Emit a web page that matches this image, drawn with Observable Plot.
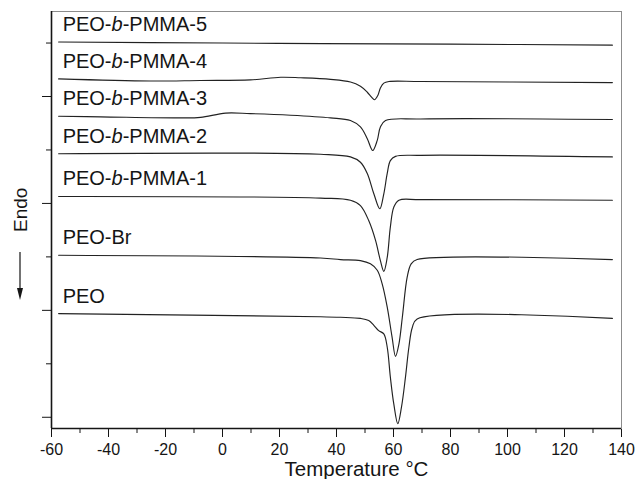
<!DOCTYPE html>
<html>
<head>
<meta charset="utf-8">
<script src="https://cdn.jsdelivr.net/npm/d3@7"></script>
<script src="https://cdn.jsdelivr.net/npm/@observablehq/plot@0.6"></script>
<style>
  html, body { margin: 0; padding: 0; background: #fff; }
  #chart svg { display: block; }
</style>
</head>
<body>
<div id="chart"></div>
<script>
// DSC heating traces: temperature (°C) and heat flow (arbitrary units, endo down)
const sampleNames = ["PEO-b-PMMA-5", "PEO-b-PMMA-4", "PEO-b-PMMA-3", "PEO-b-PMMA-2", "PEO-b-PMMA-1", "PEO-Br", "PEO"];

const tPMMA5 = [-57.5, 0, 35, 80, 136.8];
const hPMMA5 = [70.2, 70.0, 69.9, 69.8, 69.6];

const tPMMA4 = [-57.5, -25.3, -7.7, 9.8, 20.4, 27.4, 37.9, 44.9, 48.4, 50.8, 52.3, 53.3, 54.5, 55.4, 56.6, 58.4, 69.5, 136.8];
const hPMMA4 = [63.3, 62.9, 63.0, 63.1, 63.6, 63.5, 63.2, 62.7, 61.9, 60.8, 59.9, 59.4, 60.2, 61.6, 62.5, 62.8, 62.8, 62.6];

const tPMMA3 = [-57.5, -42.8, -14.7, -7.7, 1.1, 9.8, 23.9, 37.9, 44.9, 48.4, 50.8, 52.7, 54.3, 55.4, 57.2, 69.5, 136.8];
const hPMMA3 = [56.3, 56.2, 56.0, 56.1, 56.9, 56.8, 56.5, 56.0, 55.5, 54.3, 52.1, 49.9, 51.8, 54.3, 55.5, 55.8, 55.7];

const tPMMA2 = [-57.5, 34.4, 44.9, 48.4, 50.8, 53.1, 55.2, 56.6, 57.8, 58.9, 60.7, 69.5, 136.8];
const hPMMA2 = [49.3, 49.2, 48.7, 47.7, 45.6, 41.8, 39.0, 41.8, 45.6, 48.0, 48.8, 49.0, 48.7];

const tPMMA1 = [-57.5, 34.4, 44.9, 48.4, 51.3, 53.7, 55.4, 56.6, 57.8, 58.9, 60.1, 61.9, 69.5, 136.8];
const hPMMA1 = [41.3, 41.0, 40.6, 39.6, 36.8, 33.1, 29.3, 27.3, 29.9, 35.6, 39.3, 40.6, 40.7, 40.6];

const tPEOBr = [-57.5, 34.4, 41.4, 48.4, 51.9, 54.3, 56.0, 57.8, 59.5, 60.7, 61.9, 63.1, 64.8, 66.2, 68.3, 136.8];
const hPEOBr = [30.3, 29.8, 29.5, 29.3, 28.7, 27.5, 25.0, 20.6, 15.0, 11.4, 13.7, 18.7, 26.2, 28.7, 29.5, 29.5];

const tPEO = [-57.5, 34.4, 41.4, 48.4, 51.3, 53.1, 54.8, 56.6, 57.8, 58.9, 60.1, 61.5, 62.8, 64.2, 65.4, 66.6, 68.3, 136.8];
const hPEO = [19.4, 18.8, 18.7, 18.5, 18.1, 17.2, 16.2, 15.6, 13.1, 7.5, 2.5, -1.2, 1.9, 7.5, 13.1, 16.8, 18.4, 18.5];

// axis tick values
const xMajor = [-60, -40, -20, 0, 20, 40, 60, 80, 100, 120, 140];
const xMinor = [-50, -30, -10, 10, 30, 50, 70, 90, 110, 130];
const yMajor = [0, 20, 40, 60];
const yMinor = [10, 30, 50, 70];
const xDomain = [-60, 140];
const yDomain = [-2.1, 75.9];

const xLabel = "Temperature °C";
const yLabel = "Endo";

const series = [
  [tPMMA5, hPMMA5], [tPMMA4, hPMMA4], [tPMMA3, hPMMA3], [tPMMA2, hPMMA2],
  [tPMMA1, hPMMA1], [tPEOBr, hPEOBr], [tPEO, hPEO]
].map(([t, h], k) => ({name: sampleNames[k], t, h}));

const rows = series.flatMap(s => s.t.map((t, i) => ({sample: s.name, t, h: s.h[i]})));
const starts = series.map(s => ({sample: s.name, t: s.t[0], h: s.h[0]}));

const ink = "#151515";
const font = "'Liberation Sans', Arial, Helvetica, sans-serif";

const chart = Plot.plot({
  width: 635,
  height: 479,
  marginTop: 11,
  marginRight: 14,
  marginBottom: 51,
  marginLeft: 51,
  style: {fontFamily: font, fontSize: "16px", color: ink, background: "#fff"},
  x: {domain: xDomain, ticks: xMajor, tickSize: 9, tickPadding: 6, tickFormat: d => String(d), label: null},
  y: {domain: yDomain, ticks: yMajor, tickSize: 9, tickFormat: () => "", label: null},
  marks: [
    Plot.frame({stroke: "#8c8c8c", strokeWidth: 1}),
    Plot.ruleX([xDomain[0]], {stroke: ink, strokeWidth: 1.6}),
    Plot.ruleY([yDomain[0]], {stroke: ink, strokeWidth: 1.6}),
    Plot.ruleX(xMinor, {x: d => d, y1: yDomain[0], y2: yDomain[0], insetBottom: -5, stroke: ink, strokeWidth: 1}),
    Plot.ruleY(yMinor, {y: d => d, x1: xDomain[0], x2: xDomain[0], insetLeft: -5, stroke: ink, strokeWidth: 1}),
    Plot.line(rows, {x: "t", y: "h", z: "sample", curve: "catmull-rom", stroke: "#222", strokeWidth: 1.15}),
    Plot.text(starts, {x: "t", y: "h", text: "sample", textAnchor: "start", lineAnchor: "bottom", dx: 4, dy: -11, fontSize: 20, fill: ink}),
    Plot.text([xLabel], {text: d => d, frameAnchor: "bottom", lineAnchor: "bottom", dx: 20, dy: 47, fontSize: 20.5, fill: ink}),
    Plot.text([yLabel], {text: d => d, frameAnchor: "left", rotate: -90, dx: -31, dy: 12, fontSize: 19, fill: ink})
  ]
});

// italic "b" in the block copolymer names
d3.select(chart).selectAll("text").each(function() {
  const s = this.textContent;
  const k = s.indexOf("-b-");
  if (k < 0 || this.querySelector("tspan")) return;
  const el = d3.select(this);
  el.text(null);
  el.append("tspan").text(s.slice(0, k + 1));
  el.append("tspan").attr("font-style", "italic").text("b");
  el.append("tspan").text(s.slice(k + 2));
});

// downward arrow under the "Endo" label (endothermic direction)
const svg = d3.select(chart);
const ax = 51 - 31;
const g = svg.append("g").attr("aria-label", "endo arrow");
g.append("line").attr("x1", ax).attr("x2", ax).attr("y1", 252).attr("y2", 290)
  .attr("stroke", ink).attr("stroke-width", 1.2);
g.append("path").attr("d", `M${ax - 3},${288}L${ax + 3},${288}L${ax},${300}Z`).attr("fill", ink);

document.getElementById("chart").append(chart);
</script>
</body>
</html>
